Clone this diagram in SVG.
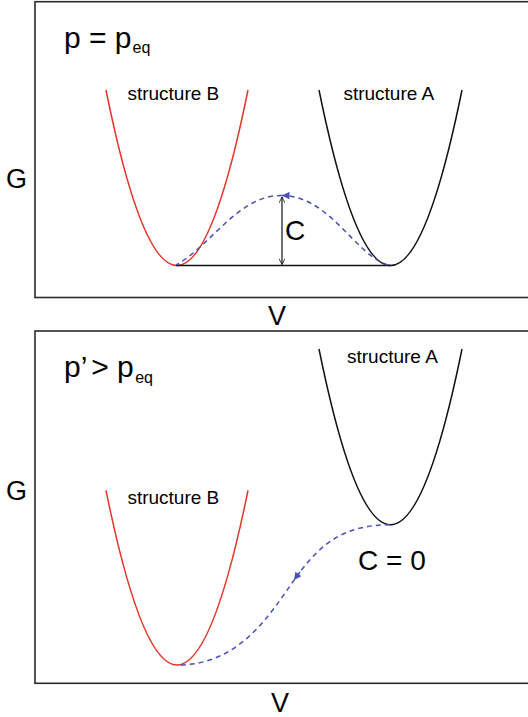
<svg xmlns="http://www.w3.org/2000/svg" width="528" height="717" viewBox="0 0 528 717">
<style>
  .frame{fill:none;stroke:#2b2b2b;stroke-width:1.6}
  .red{fill:none;stroke:#e5352a;stroke-width:1.5}
  .blk{fill:none;stroke:#111;stroke-width:1.5}
  .path{fill:none;stroke:#4a4fb8;stroke-width:1.5;stroke-dasharray:5,4}
  .base{fill:none;stroke:#111;stroke-width:1.6}
  .dim{fill:none;stroke:#111;stroke-width:1.2}
  text{font-family:"Liberation Sans",Arial,sans-serif;fill:#000}
  .big{font-size:30px}
  .sub{font-size:16px}
  .ax{font-size:27px}
  .lab{font-size:19px}
  .cl{font-size:28px}
</style>
<defs>
  <marker id="blueHead" viewBox="0 0 10 10" refX="10" refY="5" markerUnits="userSpaceOnUse" markerWidth="15" markerHeight="7.5" orient="auto">
    <path d="M0,0 L10,5 L0,10 z" fill="#4a4fb8"/>
  </marker>
  <marker id="openHead" viewBox="0 0 10 10" refX="10" refY="5" markerUnits="userSpaceOnUse" markerWidth="8" markerHeight="6" orient="auto-start-reverse">
    <path d="M0,0 L10,5 L0,10" fill="none" stroke="#111" stroke-width="1.3"/>
  </marker>
</defs>

<!-- top panel -->
<g id="panel-top">
  <rect class="frame" x="35" y="1.7" width="520" height="295.8"/>
  <text class="big" x="64" y="47.5">p = p<tspan class="sub" dx="1" dy="5.5">eq</tspan></text>
  <text class="ax" x="6" y="188">G</text>
  <text class="ax" x="277" y="325" text-anchor="middle">V</text>
</g>
<g id="top-structureB">
  <path class="red" d="M106,90 Q141.5,265.6 177,265.6 Q212.5,265.6 248,90"/>
  <text class="lab" x="127.4" y="100">structure B</text>
</g>
<g id="top-structureA">
  <path class="blk" d="M319,90 Q354.75,265.6 390.5,265.6 Q426.25,265.6 462,90"/>
  <text class="lab" x="343.4" y="100">structure A</text>
</g>
<g id="top-connectors">
  <line class="base" x1="176" y1="265.5" x2="391" y2="265.5"/>
  <path class="path" d="M388,265 C355,255 330,196 282,195.5" marker-end="url(#blueHead)"/>
  <path class="path" d="M282,195.5 C238,195 212,245 176,265"/>
  <line class="dim" x1="282" y1="197" x2="282" y2="264.5" marker-start="url(#openHead)" marker-end="url(#openHead)"/>
  <text class="cl" x="285" y="240">C</text>
</g>

<!-- bottom panel -->
<g id="panel-bottom">
  <rect class="frame" x="35" y="331" width="520" height="352.3"/>
  <text class="big" x="64" y="377">p’<tspan x="91.2">&gt; p</tspan><tspan class="sub" dx="1.4" dy="5.5">eq</tspan></text>
  <text class="ax" x="6" y="499.5">G</text>
  <text class="ax" x="280" y="712" text-anchor="middle">V</text>
</g>
<g id="bottom-structureB">
  <path class="red" d="M106,490.3 Q141.5,665 177,665 Q212.5,665 248,490.3"/>
  <text class="lab" x="127.4" y="504">structure B</text>
</g>
<g id="bottom-structureA">
  <path class="blk" d="M319,349 Q354.75,524.7 390.5,524.7 Q426.25,524.7 462,349"/>
  <text class="lab" x="347" y="363">structure A</text>
</g>
<g id="bottom-connectors">
  <path class="path" d="M390,524.7 C340,525 318,547 294,580" marker-end="url(#blueHead)"/>
  <path class="path" d="M300,572 C275,605 245,665 178,665"/>
  <text class="cl" x="358" y="569.5">C = 0</text>
</g>
</svg>
